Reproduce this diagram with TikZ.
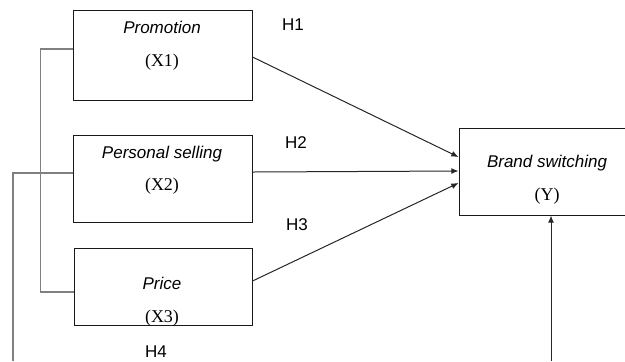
\documentclass[tikz,border=0pt]{standalone}
\usepackage{fontspec}
\setmainfont{Liberation Serif}
\setsansfont{Liberation Sans}
\usetikzlibrary{arrows.meta,calc}
\tikzset{>={Latex[length=3.6pt,width=3pt]}}
\tikzstyle{varbox}=[rectangle,draw=black!90,line width=0.5pt,inner sep=0pt]
\tikzstyle{varname}=[font=\sffamily\itshape\fontsize{8.5}{10}\selectfont,inner sep=0pt]
\tikzstyle{varsym}=[font=\fontsize{9}{10}\selectfont,inner sep=0pt]
\tikzstyle{hyp}=[font=\sffamily\fontsize{8.5}{10}\selectfont,inner sep=0pt]
\tikzstyle{link}=[draw=black!50,line width=0.7pt]
\tikzstyle{effect}=[draw=black!85,line width=0.5pt,->]

\begin{document}
\begin{tikzpicture}[x=0.5pt,y=-0.5pt]
\def \bx {162.5};
\def \wid {89.5pt};
\def \hgt {43.5pt};

\useasboundingbox (0,0) rectangle (625,361);

\node[varbox,minimum width=\wid,minimum height=45pt] (p1) at (\bx, 55) {};
\node[varbox,minimum width=\wid,minimum height=\hgt] (p2) at (\bx, 178.5) {};
\node[varbox,minimum width=89pt,minimum height=38.5pt] (p3) at (163, 286.5) {};
\node[varbox,minimum width=86pt,minimum height=\hgt] (yb) at (545, 171.5) {};

\node[varname] (n1) at (162, 27) {Promotion};
\node[varsym] (s1) at (162, 62) {(X1)};
\node[varname] (n2) at (162, 154) {Personal selling};
\node[varsym] (s2) at (162, 186) {(X2)};
\node[varname] (n3) at (162, 283) {Price};
\node[varsym] (s3) at (162, 318) {(X3)};
\node[varname] (ny) at (547, 163) {Brand switching};
\node[varsym] (sy) at (547, 196) {(Y)};

\node[hyp] (h1) at (293, 25) {H1};
\node[hyp] (h2) at (296, 143) {H2};
\node[hyp] (h3) at (297, 225) {H3};
\node[hyp] (h4) at (156, 352) {H4};

\coordinate (h4l) at (13, 361);
\coordinate (h4r) at (551, 361);

\foreach \i/\s/\e in {1/2/-14.5, 2/-6.5/-0.5, 3/-5.5/11.5} {
	\draw[effect] ($(p\i.east)+(0,\s)$) -- ($(yb.west)+(0,\e)$);
};

\draw[link] ($(p1.west)+(0,-6)$) -- ++(-32,0) |- ($(p3.west)+(0,5.5)$);
\draw[link] ($(p2.west)+(0,-5.5)$) -| (h4l);
\draw[effect] (h4r) -- (h4r |- yb.south);

\end{tikzpicture}
\end{document}
